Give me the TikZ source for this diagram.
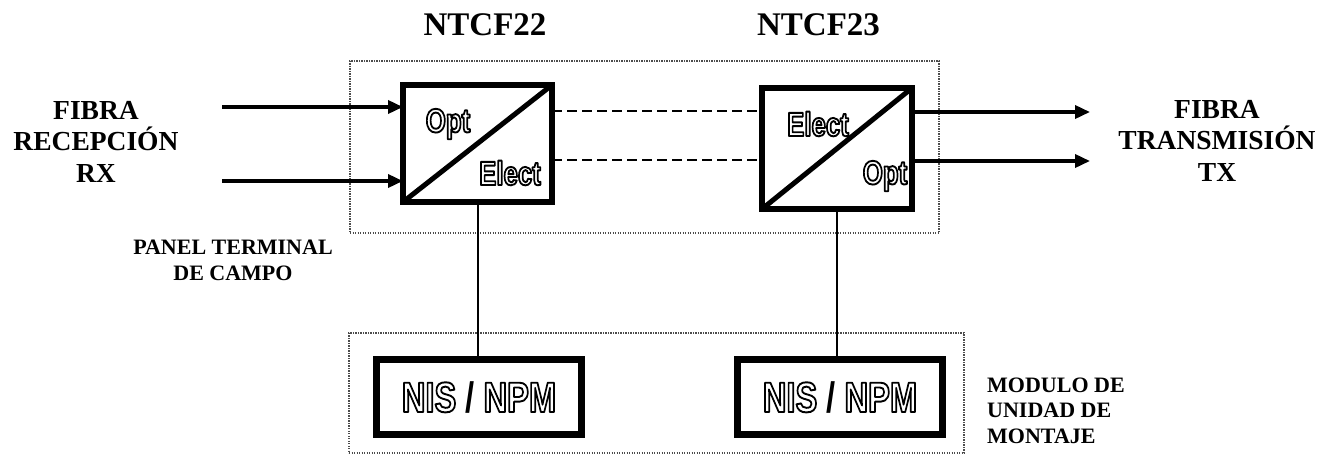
\documentclass[tikz,border=0pt]{standalone}
\usepackage{fontspec}
\usepackage{graphicx}
\setmainfont{Liberation Serif}
\newfontfamily\boxfont{Liberation Sans}[FakeStretch=0.86]
\usetikzlibrary{arrows.meta}
\newcommand{\hollow}[1]{\textcolor{white}{\special{pdf:literal direct 0 G 1 j 2 Tr 1.7 w}#1\special{pdf:literal direct 0 Tr 0 j}}}
\tikzset{
  conv/.style={draw, line width=6pt, inner sep=0pt, outer sep=0pt, minimum width=149pt},
  nisbox/.style={draw, line width=7pt, inner sep=0pt, outer sep=0pt, minimum width=205pt, minimum height=75pt,
    font=\boxfont\bfseries\fontsize{38}{38}\selectfont},
  dotbox/.style={draw=black!70, line width=1.3pt, dash pattern=on 1.3pt off 1.2pt, inner sep=0pt, outer sep=0pt},
  inlab/.style={inner sep=0pt, font=\boxfont\bfseries\fontsize{30}{30}\selectfont},
  biglab/.style={inner sep=0pt, align=center, anchor=base, font=\bfseries\fontsize{27.5}{31.5}\selectfont},
  smalllab/.style={inner sep=0pt, anchor=base, font=\bfseries\fontsize{22}{25.5}\selectfont},
  title/.style={inner sep=0pt, anchor=base, font=\bfseries\fontsize{33}{33}\selectfont},
  fiber/.style={line width=3.5pt, -{Triangle[length=15pt,width=13pt]}},
  link/.style={line width=2.5pt, dash pattern=on 10pt off 5pt},
  wire/.style={line width=2pt},
  diag/.style={line width=5pt}
}
\begin{document}
\begin{tikzpicture}[x=1pt,y=-1pt]
\useasboundingbox[fill=white] (0,0) rectangle (1321,455);

% dotted frames
\node[dotbox, minimum width=589pt, minimum height=172pt] (panel) at (644.5,147) {};
\node[dotbox, minimum width=615pt, minimum height=120pt] (modulo) at (656.5,393) {};

% converter boxes
\node[conv, minimum height=117pt] (c1) at (477.5,143.5) {};
\node[conv, minimum height=121pt, minimum width=150pt] (c2) at (837,148.5) {};
\draw[diag] (c1.south west) -- (c1.north east);
\draw[diag] (c2.south west) -- (c2.north east);

\node[inlab] (o1) at (448,124) {\scalebox{1}[1.12]{\hollow{Opt}}};
\node[inlab] (e1) at (510,173) {\scalebox{1}[1.12]{\hollow{Elect}}};
\node[inlab] (e2) at (818,124) {\scalebox{1}[1.12]{\hollow{Elect}}};
\node[inlab] (o2) at (885,176) {\scalebox{1}[1.12]{\hollow{Opt}}};

% NIS / NPM boxes
\node[nisbox] (n1) at (479,397) {\scalebox{1}[1.12]{\hollow{NIS}\ /\ \hollow{NPM}}};
\node[nisbox] (n2) at (840,397) {\scalebox{1}[1.12]{\hollow{NIS}\ /\ \hollow{NPM}}};

% vertical wires
\draw[wire] (c1.south) -- (c1.south |- n1.north);
\draw[wire] (c2.south) -- (c2.south |- n2.north);

% dashed electrical links
\coordinate (l1) at (0,111);
\coordinate (l2) at (0,160);
\draw[link] (c1.east |- l1) -- (c2.west |- l1);
\draw[link] (c1.east |- l2) -- (c2.west |- l2);

% input fibres
\coordinate (in1) at (222,107);
\coordinate (in2) at (222,181);
\draw[fiber] (in1) -- (in1 -| c1.west);
\draw[fiber] (in2) -- (in2 -| c1.west);

% output fibres
\coordinate (out1) at (1090,112);
\coordinate (out2) at (1090,161);
\draw[fiber] (c2.east |- out1) -- (out1);
\draw[fiber] (c2.east |- out2) -- (out2);

% labels
\node[title] (t1) at (485,35) {NTCF22};
\node[title] (t2) at (818.5,35) {NTCF23};
\node[biglab] (rx) at (96,182) {FIBRA\\RECEPCIÓN\\RX};
\node[biglab] (tx) at (1217,181) {FIBRA\\TRANSMISIÓN\\TX};
\node[smalllab, align=center] (ptc) at (233,280) {PANEL TERMINAL\\DE CAMPO};
\node[smalllab, align=left, anchor=base west] (mum) at (987,443) {MODULO DE\\UNIDAD DE\\MONTAJE};
\end{tikzpicture}
\end{document}
